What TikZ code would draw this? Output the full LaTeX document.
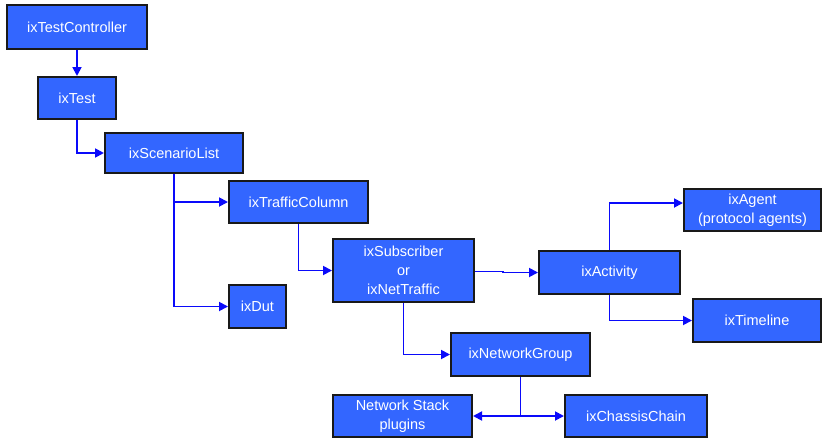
\documentclass[tikz,border=0pt]{standalone}
\usepackage{fontspec}
\setmainfont{Liberation Sans}
\usetikzlibrary{arrows.meta}
\definecolor{boxblue}{RGB}{51,102,255}
\definecolor{linkblue}{RGB}{10,10,250}
\definecolor{boxedge}{RGB}{25,25,25}
\begin{document}
\begin{tikzpicture}[x=1pt,y=-1pt,
  box/.style={draw=boxedge, line width=2pt, fill=boxblue, text=white, align=center,
    inner sep=0pt, font=\fontsize{14.5}{19}\selectfont},
  link/.style={draw=linkblue, line width=1.8pt, -{Triangle[length=9pt,width=9pt]}},
  plain/.style={draw=linkblue, line width=1.8pt}]
\useasboundingbox (0,0) rectangle (822,439);
\fill[white] (0,0) rectangle (822,439);
\node[box, minimum width=140pt, minimum height=44pt] (tc) at (77,27) {ixTestController};
\node[box, minimum width=78pt, minimum height=42pt] (test) at (77,98) {ixTest};
\node[box, minimum width=138pt, minimum height=40pt] (sl) at (174,153) {ixScenarioList};
\node[box, minimum width=139pt, minimum height=42pt] (traffic) at (298.5,202) {ixTrafficColumn};
\node[box, minimum width=57pt, minimum height=43pt] (dut) at (257.5,306.5) {ixDut};
\node[box, minimum width=141pt, minimum height=63pt] (sub) at (403.5,270.5) {ixSubscriber\\or\\ixNetTraffic};
\node[box, minimum width=141pt, minimum height=43pt] (act) at (609.5,272.5) {ixActivity};
\node[box, minimum width=137pt, minimum height=42pt] (agent) at (752.5,210) {ixAgent\\(protocol agents)};
\node[box, minimum width=128pt, minimum height=43pt] (tl) at (757,320.5) {ixTimeline};
\node[box, minimum width=139pt, minimum height=43pt] (ng) at (520.5,354.5) {ixNetworkGroup};
\node[box, minimum width=139pt, minimum height=42pt] (nsp) at (402.5,416) {Network Stack\\plugins};
\node[box, minimum width=142pt, minimum height=42pt] (cc) at (636,416) {ixChassisChain};
\draw[link] (tc.south) -- (test.north);
\draw[link] (test.south) |- (sl.west);
\draw[link] (sl.south) |- (traffic.west);
\draw[link] (sl.south) |- (dut.west);
\draw[link] (traffic.south) |- (sub.west);
\draw[link] ([yshift=-1pt]sub.east) -- ++(28,0) |- (act.west);
\draw[link] (act.north) |- ([yshift=7pt]agent.west);
\draw[link] (act.south) |- (tl.west);
\draw[link] (sub.south) |- (ng.west);
\coordinate (j) at (ng.south |- nsp.east);
\draw[plain] (ng.south) -- (j);
\draw[link] (j) -- (nsp.east);
\draw[link] (j) -- (cc.west);
\end{tikzpicture}
\end{document}
